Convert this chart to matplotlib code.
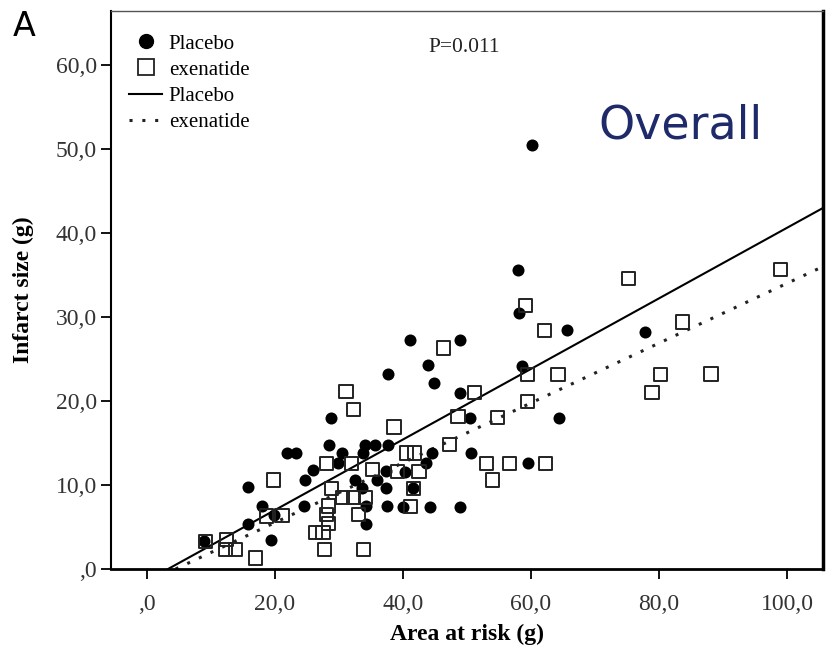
import numpy as np
import matplotlib
matplotlib.use("Agg")
import matplotlib.pyplot as plt
from matplotlib.lines import Line2D
from matplotlib.ticker import FuncFormatter


# =========================
# DATA
# =========================
placebo_x = [9.0, 15.8, 15.8, 18.0, 19.4, 19.8, 21.9, 23.3, 24.5, 24.7,
             26.0, 28.4, 28.7, 29.8, 30.5, 32.5, 33.6, 33.8, 34.1, 34.2,
             34.2, 35.6, 35.9, 37.3, 37.3, 37.5, 37.7, 37.7, 40.3, 40.0,
             41.1, 41.6, 43.6, 43.9, 44.2, 44.5, 44.8, 48.9, 48.9, 48.9,
             50.4, 50.6, 58.0, 58.1, 58.6, 59.5, 60.2, 64.3, 65.6, 77.8]
placebo_y = [3.3, 9.7, 5.4, 7.5, 3.4, 6.4, 13.8, 13.8, 7.5, 10.6,
             11.8, 14.8, 18.0, 12.6, 13.8, 10.6, 9.6, 13.8, 14.8, 7.5,
             5.4, 14.8, 10.6, 11.7, 9.6, 7.5, 14.8, 23.2, 11.6, 7.4,
             27.3, 9.6, 12.6, 24.3, 7.4, 13.8, 22.1, 27.3, 21.0, 7.4,
             18.0, 13.8, 35.6, 30.5, 24.2, 12.6, 50.5, 18.0, 28.4, 28.2]

exenatide_x = [9.2, 12.5, 12.3, 13.9, 17.0, 18.7, 19.8, 21.1, 26.3, 27.5,
               27.8, 28.0, 28.1, 28.4, 28.4, 28.8, 30.5, 31.1, 32.0, 32.3,
               32.3, 33.1, 33.8, 34.1, 35.3, 38.6, 39.1, 40.5, 41.8, 41.2,
               41.6, 42.5, 46.3, 47.3, 48.6, 51.2, 53.0, 54.0, 54.7, 56.6,
               59.1, 59.4, 59.4, 62.1, 62.3, 64.2, 75.2, 78.9, 80.2, 83.6,
               88.1, 98.9]
exenatide_y = [3.3, 3.5, 2.3, 2.3, 1.3, 6.3, 10.6, 6.4, 4.3, 4.3,
               2.3, 6.5, 12.6, 7.5, 5.4, 9.6, 8.5, 21.1, 12.6, 8.5,
               19.0, 6.5, 2.3, 8.5, 11.8, 16.9, 11.6, 13.8, 13.8, 7.4,
               9.6, 11.6, 26.3, 14.8, 18.1, 21.0, 12.6, 10.6, 18.0, 12.6,
               31.4, 23.1, 19.9, 28.4, 12.6, 23.1, 34.6, 21.0, 23.1, 29.4,
               23.2, 35.6]

# regression lines (slope, intercept)
placebo_fit = (0.420, -1.39)
exenatide_fit = (0.356, -1.60)

X_TICKS = [0, 20, 40, 60, 80, 100]
Y_TICKS = [0, 10, 20, 30, 40, 50, 60]
XLIM = (-5.6, 105.6)
YLIM = (0, 66.4)

SERIF = "Liberation Serif"


def comma_fmt(v, pos=None):
    if v == 0:
        return ",0"
    return f"{v:.1f}".replace(".", ",")


def fit_line(fit, xmax):
    slope, icpt = fit
    x0 = -icpt / slope
    xs = np.array([x0, xmax])
    return xs, slope * xs + icpt


# =========================
# PLOT
# =========================
fig = plt.figure(figsize=(8.27, 6.49), dpi=100)
ax = fig.add_axes([111 / 827, 1 - 569 / 649, (823 - 111) / 827, (569 - 11) / 649])

ax.scatter(placebo_x, placebo_y, s=75, marker="o", color="black",
           linewidths=0, zorder=3)
ax.scatter(exenatide_x, exenatide_y, s=90, marker="s", facecolors="none",
           edgecolors="#222222", linewidths=1.4, zorder=4)

xs, ys = fit_line(placebo_fit, XLIM[1])
ax.plot(xs, ys, color="black", lw=1.5, zorder=2)
xs, ys = fit_line(exenatide_fit, XLIM[1])
ax.plot(xs, ys, color="#222222", lw=2.2, linestyle=(0, (1, 3.2)), zorder=2)

ax.set_xlim(*XLIM)
ax.set_ylim(*YLIM)
ax.set_xticks(X_TICKS)
ax.set_yticks(Y_TICKS)
ax.xaxis.set_major_formatter(FuncFormatter(comma_fmt))
ax.yaxis.set_major_formatter(FuncFormatter(comma_fmt))
ax.tick_params(direction="out", length=7, width=1.3, labelsize=17,
               labelcolor="#333333")
ax.tick_params(axis="x", pad=11)
ax.tick_params(axis="y", pad=3)
for lbl in ax.get_xticklabels() + ax.get_yticklabels():
    lbl.set_fontfamily(SERIF)

ax.spines["left"].set_linewidth(1.5)
ax.spines["bottom"].set_linewidth(2.0)
ax.spines["right"].set_linewidth(2.5)
ax.spines["top"].set_linewidth(1.0)
ax.spines["top"].set_color("#555555")

ax.set_xlabel("Area at risk (g)", fontfamily=SERIF, fontweight="bold",
              fontsize=17, labelpad=6)
ax.set_ylabel("Infarct size (g)", fontfamily=SERIF, fontweight="bold",
              fontsize=17, labelpad=16)

handles = [
    Line2D([], [], marker="o", color="black", linestyle="none", markersize=10),
    Line2D([], [], marker="s", color="#222222", markerfacecolor="none",
           linestyle="none", markersize=11, markeredgewidth=1.3),
    Line2D([], [], color="black", lw=1.5),
    Line2D([], [], color="#222222", lw=2.2, linestyle=(0, (1, 3.2))),
]
labels = ["Placebo", "exenatide", "Placebo", "exenatide"]
ax.legend(handles, labels, loc="upper left", bbox_to_anchor=(0.005, 0.985),
          frameon=False, handlelength=1.6, handletextpad=0.3,
          labelspacing=0.32, borderpad=0.2, prop={"family": SERIF, "size": 15})

ax.text(49.5, 62.1, "P=0.011", fontfamily=SERIF, fontsize=15.5,
        ha="center", va="center", color="#222222")

fig.text(680 / 827, 1 - 126 / 649, "Overall", fontsize=33, color="#1f2a6b",
         ha="center", va="center", fontfamily="DejaVu Sans")
fig.text(24 / 827, 1 - 27 / 649, "A", fontsize=24, color="black",
         ha="center", va="center", fontfamily="DejaVu Sans")

fig.savefig("out.png", dpi=100)
plt.close(fig)
